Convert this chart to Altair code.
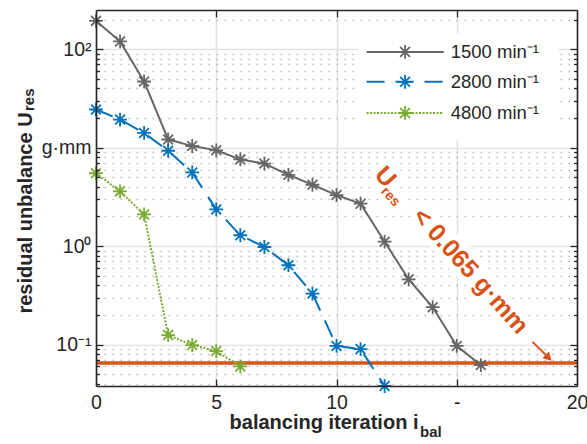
import altair as alt
import pandas as pd

# ---------------- data ----------------
series_names = ["1500 min⁻¹", "2800 min⁻¹", "4800 min⁻¹"]
iter_1500 = [0, 1, 2, 3, 4, 5, 6, 7, 8, 9, 10, 11, 12, 13, 14, 15, 16]
ures_1500 = [194, 120, 47, 12.1, 10.4, 9.4, 7.6, 6.9, 5.3, 4.2, 3.3, 2.7, 1.11, 0.46, 0.24, 0.097, 0.062]
iter_2800 = [0, 1, 2, 3, 4, 5, 6, 7, 8, 9, 10, 11, 12]
ures_2800 = [24.4, 19.3, 14.1, 9.3, 5.6, 2.36, 1.29, 0.98, 0.64, 0.33, 0.097, 0.090, 0.038]
iter_4800 = [0, 1, 2, 3, 4, 5, 6]
ures_4800 = [5.5, 3.6, 2.1, 0.125, 0.099, 0.086, 0.060]
ures_limit = 0.065

x_tick_values = [0, 5, 10, 15, 20]
x_tick_labels = ["0", "5", "10", "-", "20"]
y_tick_values = [0.1, 1, 10, 100]
y_tick_labels = ["10⁻¹", "10⁰", "g·mm", "10²"]
x_title = "balancing iteration i"
x_title_sub = "bal"
y_title = "residual unbalance U"
y_title_sub = "res"
note_main = "U"
note_sub = "res"
note_text = f"< {ures_limit} g·mm"

# ---------------- styling ----------------
FONT = "Liberation Sans"
INK = "#262626"
colors = ["#666666", "#0072BD", "#77AC30"]
dashes = [[1, 0], [18, 11], [2, 1.5]]
RED = "#D95319"
W, H = 481, 376
ASTERISK = "M-1,0L1,0M0,-1L0,1M-0.71,-0.71L0.71,0.71M-0.71,0.71L0.71,-0.71"

xs = alt.Scale(domain=[0, 20], nice=False, zero=False)
ys = alt.Scale(type="log", domain=[0.038, 250], nice=False)

rows = []
for name, xv, yv in [(series_names[0], iter_1500, ures_1500),
                     (series_names[1], iter_2800, ures_2800),
                     (series_names[2], iter_4800, ures_4800)]:
    for a, b in zip(xv, yv):
        rows.append({"series": name, "x": a, "y": b})
df = pd.DataFrame(rows)

color_enc = alt.Color("series:N", scale=alt.Scale(domain=series_names, range=colors), legend=None)
dash_enc = alt.StrokeDash("series:N", scale=alt.Scale(domain=series_names, range=dashes), legend=None)


def label_expr(values, labels):
    expr = "datum.label"
    for v, l in zip(values, labels):
        expr = f"datum.value == {v} ? '{l}' : ({expr})"
    return expr


minor_vals = [m * 10.0 ** k for k in range(-2, 3) for m in range(2, 10)
              if 0.038 <= m * 10.0 ** k <= 250]

base = alt.Chart(df)


def axis_layer(xaxis, yaxis):
    return base.mark_point(opacity=0).encode(
        x=alt.X("x:Q", scale=xs, axis=xaxis),
        y=alt.Y("y:Q", scale=ys, axis=yaxis),
    )


tick_common = dict(labels=False, grid=False, title=None, tickColor=INK, tickWidth=1.3,
                   domainColor=INK, domainWidth=1.6, zindex=1)

# main axes: labels, titles, major grid
main_axes = axis_layer(
    alt.Axis(values=x_tick_values, labelExpr=label_expr(x_tick_values, x_tick_labels),
             labelFont=FONT, labelFontSize=19.5, labelColor=INK, labelPadding=7,
             labelFlush=False, labelOverlap=False,
             ticks=False, domain=False, grid=True, gridColor="#e3e3e3", gridWidth=1.6,
             title=x_title, titleFont=FONT, titleFontSize=20, titleFontWeight="bold",
             titleColor=INK, titleX=227.5, titleY=42, titleAlign="center",
             titleBaseline="alphabetic", zindex=0),
    alt.Axis(values=y_tick_values, labelExpr=label_expr(y_tick_values, y_tick_labels),
             labelFont=FONT, labelFontSize=19.5, labelColor=INK, labelPadding=5,
             labelFlush=False, labelOverlap=False,
             ticks=False, domain=False, grid=True, gridColor="#e3e3e3", gridWidth=1.6,
             title=y_title, titleFont=FONT, titleFontSize=20, titleFontWeight="bold",
             titleColor=INK, titleAngle=270, titleX=-65, titleY=202.5, titleAlign="center",
             titleBaseline="alphabetic", zindex=0),
)

# minor dotted grid + inward ticks at bottom edge (with bottom border)
minor_grid = axis_layer(
    alt.Axis(orient="top", offset=-H, values=[5, 10, 15], tickSize=7, domain=True, **tick_common),
    alt.Axis(orient="left", values=minor_vals, labels=False, ticks=False, domain=False,
             grid=True, gridDash=[1.5, 6.5], gridColor="#b8b8b8", gridWidth=1.3, title=None,
             zindex=0),
)
# top edge ticks + left edge major ticks
edge1 = axis_layer(
    alt.Axis(orient="bottom", offset=-H, values=[5, 10, 15], tickSize=7, domain=True, **tick_common),
    alt.Axis(orient="right", offset=-W, values=y_tick_values, tickSize=7, domain=True, **tick_common),
)
edge2 = axis_layer(
    None,
    alt.Axis(orient="right", offset=-W, values=minor_vals, tickSize=3.5, domain=False, **tick_common),
)
edge3 = axis_layer(
    None,
    alt.Axis(orient="left", offset=-W, values=y_tick_values, tickSize=7, domain=True, **tick_common),
)
edge4 = axis_layer(
    None,
    alt.Axis(orient="left", offset=-W, values=minor_vals, tickSize=3.5, domain=False, **tick_common),
)

# annotation (rotated text with white halo)
note_df = pd.DataFrame({
    "x": [12.04, 12.24, 15.58],
    "y": [5.06, 3.17, 0.56],
    "t": [note_main, note_sub, note_text],
    "s": [25, 14, 25],
})


def note_layer(halo):
    kw = dict(stroke="white", strokeWidth=12, strokeJoin="round", fill="white") if halo else dict(fill=RED)
    return alt.Chart(note_df).mark_text(font=FONT, fontWeight="bold", angle=48, align="center",
                                        baseline="middle", **kw).encode(
        x=alt.X("x:Q", scale=xs, axis=None),
        y=alt.Y("y:Q", scale=ys, axis=None),
        text="t:N",
        size=alt.Size("s:Q", scale=None, legend=None),
    )


arrow_df = pd.DataFrame({"x": [18.15], "x2": [18.82], "y": [0.1067], "y2": [0.0735]})
arrow_line = alt.Chart(arrow_df).mark_rule(color=RED, strokeWidth=2).encode(
    x=alt.X("x:Q", scale=xs, axis=None), x2="x2:Q",
    y=alt.Y("y:Q", scale=ys, axis=None), y2="y2:Q")
arrow_head = alt.Chart(arrow_df).mark_point(shape="triangle-right", filled=True, color=RED,
                                            size=90, angle=45, opacity=1).encode(
    x=alt.X("x2:Q", scale=xs, axis=None), y=alt.Y("y2:Q", scale=ys, axis=None))

limit_df = pd.DataFrame({"x": [0], "x2": [20], "y": [ures_limit]})
limit_line = alt.Chart(limit_df).mark_rule(color=RED, strokeWidth=3.5).encode(
    x=alt.X("x:Q", scale=xs, axis=None), x2="x2:Q", y=alt.Y("y:Q", scale=ys, axis=None))

lines = base.mark_line(strokeWidth=2, clip=False).encode(
    x=alt.X("x:Q", scale=xs, axis=None), y=alt.Y("y:Q", scale=ys, axis=None),
    color=color_enc, strokeDash=dash_enc, detail="series:N")
points = base.mark_point(shape=ASTERISK, filled=False, size=190, strokeWidth=1.8, opacity=1,
                         clip=False).encode(
    x=alt.X("x:Q", scale=xs, axis=None), y=alt.Y("y:Q", scale=ys, axis=None), color=color_enc)

# legend (drawn in data space inside the plot)
leg_df = pd.DataFrame({
    "series": series_names,
    "x0": [11.25] * 3, "x1": [14.46] * 3, "xm": [12.85] * 3, "lx": [14.75] * 3,
    "y": [93.9, 46.6, 22.5],
})
box_df = pd.DataFrame({"x": [10.9], "x2": [19.2], "y": [145], "y2": [11.9]})
leg_box = alt.Chart(box_df).mark_rect(fill="white").encode(
    x=alt.X("x:Q", scale=xs, axis=None), x2="x2:Q", y=alt.Y("y:Q", scale=ys, axis=None), y2="y2:Q")
leg_lines = alt.Chart(leg_df).mark_rule(strokeWidth=2).encode(
    x=alt.X("x0:Q", scale=xs, axis=None), x2="x1:Q", y=alt.Y("y:Q", scale=ys, axis=None),
    color=color_enc, strokeDash=dash_enc)
leg_pts = alt.Chart(leg_df).mark_point(shape=ASTERISK, filled=False, size=190, strokeWidth=1.8,
                                       opacity=1).encode(
    x=alt.X("xm:Q", scale=xs, axis=None), y=alt.Y("y:Q", scale=ys, axis=None), color=color_enc)
leg_text = alt.Chart(leg_df).mark_text(font=FONT, fontSize=18.5, align="left", baseline="middle",
                                       color=INK).encode(
    x=alt.X("lx:Q", scale=xs, axis=None), y=alt.Y("y:Q", scale=ys, axis=None), text="series:N")

# subscripts of the axis titles
sub_df = pd.DataFrame({"t": [x_title_sub]})
x_sub = alt.Chart(sub_df).mark_text(font=FONT, fontSize=15, fontWeight="bold", align="left",
                                    baseline="alphabetic", color=INK).encode(
    x=alt.value(324), y=alt.value(427), text="t:N")
sub_df2 = pd.DataFrame({"t": [y_title_sub]})
y_sub = alt.Chart(sub_df2).mark_text(font=FONT, fontSize=15, fontWeight="bold", align="left",
                                     baseline="alphabetic", angle=270, color=INK).encode(
    x=alt.value(-62), y=alt.value(101), text="t:N")

chart = alt.layer(
    main_axes, minor_grid, edge1, edge2, edge3, edge4,
    note_layer(True), limit_line, lines, points,
    leg_box, leg_lines, leg_pts, leg_text,
    note_layer(False), arrow_line, arrow_head, x_sub, y_sub,
).resolve_axis(x="independent", y="independent").properties(
    width=W, height=H,
    padding={"left": 96, "top": 10, "right": 10, "bottom": 58},
    autosize=alt.AutoSizeParams(type="none"),
    background="white",
).configure_view(stroke=None)

chart.save("out.html", embed_options={"renderer": "svg", "actions": False})
